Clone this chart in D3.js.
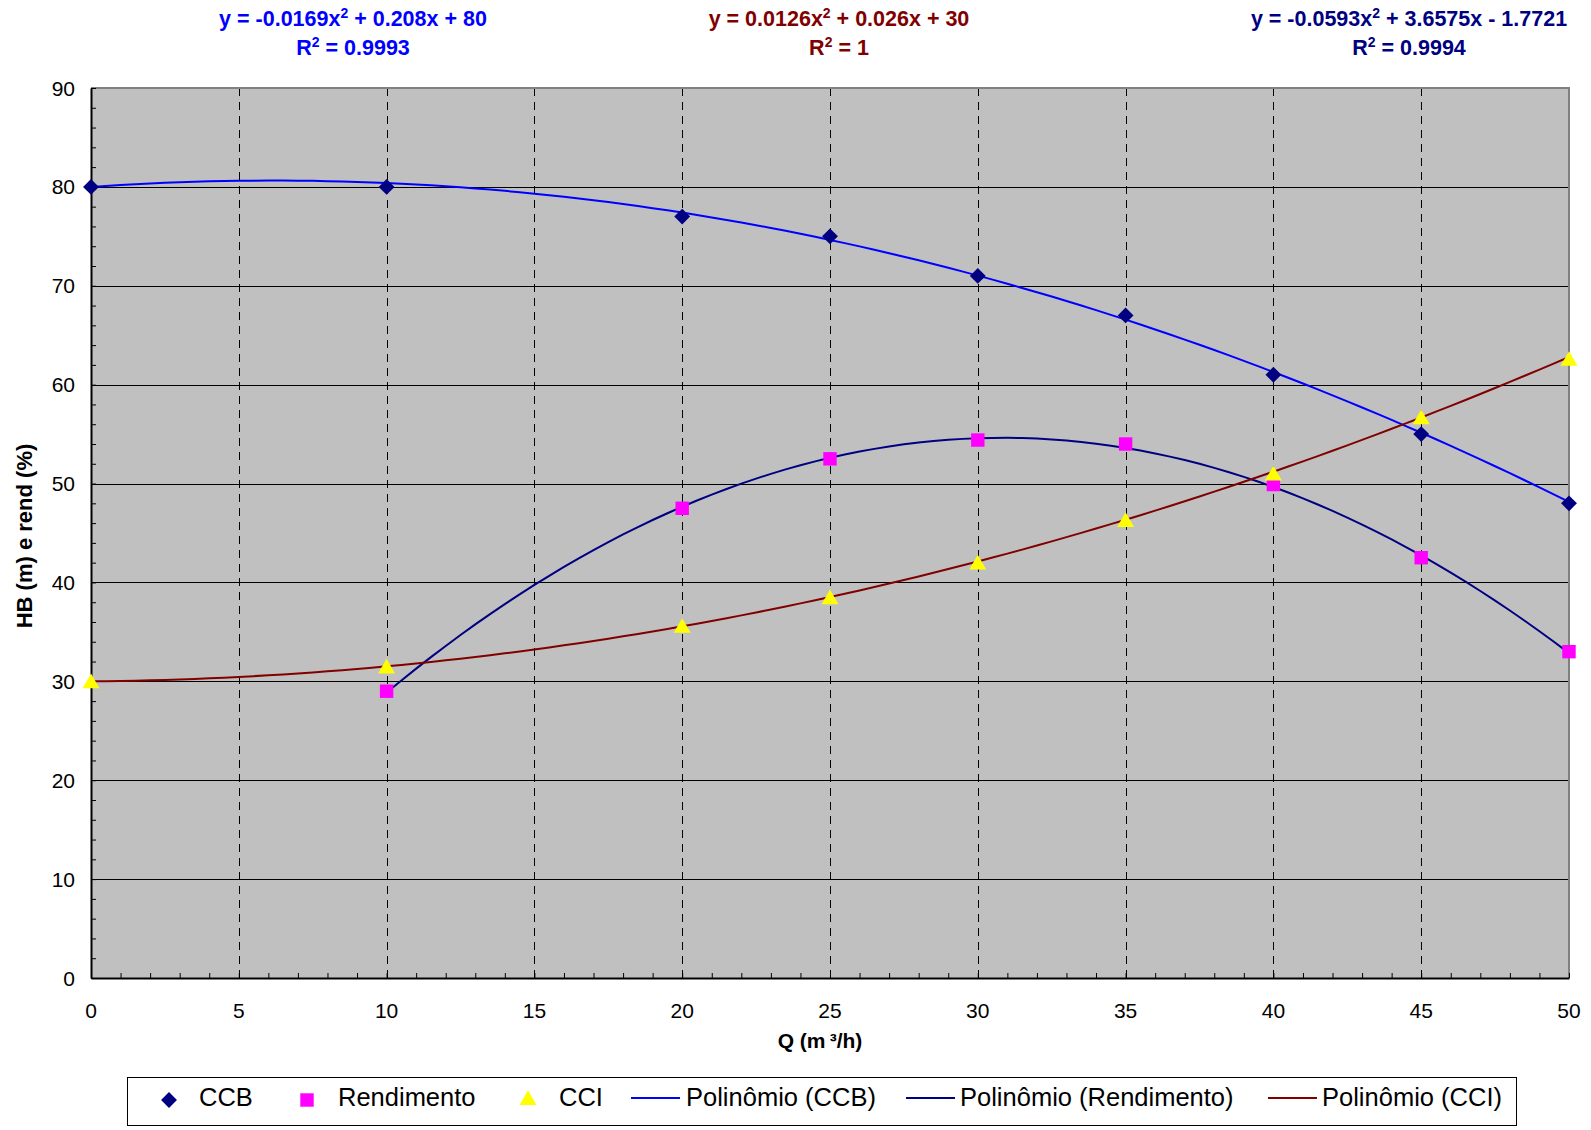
<!DOCTYPE html>
<html>
<head>
<meta charset="utf-8">
<script src="https://cdn.jsdelivr.net/npm/d3@7"></script>
<style>
  body { margin: 0; background: #fff; }
  text { font-family: Arial, "Liberation Sans", sans-serif; }
</style>
</head>
<body>
<svg id="chart" width="1591" height="1130"></svg>
<script>
// data
var qValues = [0, 10, 20, 25, 30, 35, 40, 45, 50];
var ccbValues = [80, 80, 77, 75, 71, 67, 61, 55, 48];
var rendQ = [10, 20, 25, 30, 35, 40, 45, 50];
var rendValues = [29, 47.5, 52.5, 54.4, 54, 49.9, 42.5, 33];
var cciValues = [30, 31.5, 35.6, 38.5, 42, 46.3, 51, 56.7, 62.6];

// trendline coefficients as printed on the chart (a, b, c)
var ccbCoef = [-0.0169, 0.208, 80];
var rendCoef = [-0.0593, 3.6575, -1.7721];
var cciCoef = [0.0126, 0.026, 30];

var xTicks = [0, 5, 10, 15, 20, 25, 30, 35, 40, 45, 50];
var yTicks = [0, 10, 20, 30, 40, 50, 60, 70, 80, 90];

var svg = d3.select("#chart");
var plotLeft = 91, plotRight = 1569, plotTop = 88, plotBottom = 978;

var x = d3.scaleLinear().domain([0, 50]).range([plotLeft, plotRight]);
var y = d3.scaleLinear().domain([0, 90]).range([plotBottom, plotTop]);

// plot background
svg.append("rect")
  .attr("x", plotLeft).attr("y", plotTop)
  .attr("width", plotRight - plotLeft).attr("height", plotBottom - plotTop)
  .attr("fill", "#c0c0c0");

// horizontal gridlines
svg.selectAll(".hgrid")
  .data(yTicks.filter(d => d > 0 && d < 90))
  .enter().append("line")
  .attr("x1", plotLeft).attr("x2", plotRight)
  .attr("y1", d => Math.round(y(d)) + 0.5).attr("y2", d => Math.round(y(d)) + 0.5)
  .attr("stroke", "#000").attr("stroke-width", 1);

// vertical dashed gridlines
svg.selectAll(".vgrid")
  .data(xTicks.filter(d => d > 0 && d < 50))
  .enter().append("line")
  .attr("x1", d => Math.round(x(d)) + 0.5).attr("x2", d => Math.round(x(d)) + 0.5)
  .attr("y1", plotTop).attr("y2", plotBottom)
  .attr("stroke", "#000").attr("stroke-width", 1)
  .attr("stroke-dasharray", "8,6");

// top and right border
svg.append("path")
  .attr("d", `M${plotLeft},${plotTop}H${plotRight}V${plotBottom}`)
  .attr("fill", "none").attr("stroke", "#808080").attr("stroke-width", 2);

// axes, ticks pointing into the plot
var yAxis = d3.axisRight(y).tickValues(d3.range(0, 91, 2)).tickSize(5).tickSizeOuter(0).tickFormat("");
svg.append("g").attr("transform", `translate(${plotLeft},0)`).call(yAxis)
  .call(g => g.select(".domain").attr("stroke-width", 2));
var xAxis = d3.axisTop(x).tickValues(d3.range(0, 51, 1)).tickSize(5).tickSizeOuter(0).tickFormat("");
svg.append("g").attr("transform", `translate(0,${plotBottom})`).call(xAxis)
  .call(g => g.select(".domain").attr("stroke-width", 2));

// tick labels
svg.selectAll(".ylab")
  .data(yTicks)
  .enter().append("text")
  .attr("x", 75).attr("y", d => y(d) + 7.5)
  .attr("text-anchor", "end")
  .attr("font-size", 21)
  .text(d => d);

svg.selectAll(".xlab")
  .data(xTicks)
  .enter().append("text")
  .attr("x", d => x(d)).attr("y", 1018)
  .attr("text-anchor", "middle")
  .attr("font-size", 21)
  .text(d => d);

// axis titles
svg.append("text")
  .attr("x", 820).attr("y", 1048)
  .attr("text-anchor", "middle")
  .attr("font-size", 21).attr("font-weight", "bold")
  .text("Q (m\u2009³/h)");

svg.append("text")
  .attr("transform", "translate(32,536) rotate(-90)")
  .attr("text-anchor", "middle")
  .attr("font-size", 22).attr("font-weight", "bold")
  .text("HB (m) e rend (%)");

// trendlines
function poly(c) { return q => c[0] * q * q + c[1] * q + c[2]; }
var line = d3.line().x(d => x(d[0])).y(d => y(d[1]));
function trend(c, q0, q1, color) {
  var f = poly(c);
  var pts = d3.range(q0, q1 + 0.001, 0.5).map(q => [q, f(q)]);
  svg.append("path").datum(pts)
    .attr("d", line)
    .attr("fill", "none").attr("stroke", color).attr("stroke-width", 2);
}
trend(ccbCoef, 0, 50, "#0000ff");
trend(rendCoef, 10, 50, "#000080");
trend(cciCoef, 0, 50, "#800000");

// markers
var diamond = d3.symbol().type(d3.symbolDiamond2).size(160);
var square = d3.symbol().type(d3.symbolSquare).size(180);
var triangle = d3.symbol().type(d3.symbolTriangle).size(125);

svg.selectAll(".ccb")
  .data(qValues.map((q, i) => [q, ccbValues[i]]))
  .enter().append("path")
  .attr("d", diamond)
  .attr("transform", d => `translate(${x(d[0])},${y(d[1])})`)
  .attr("fill", "#000080");

svg.selectAll(".rend")
  .data(rendQ.map((q, i) => [q, rendValues[i]]))
  .enter().append("path")
  .attr("d", square)
  .attr("transform", d => `translate(${x(d[0])},${y(d[1])})`)
  .attr("fill", "#ff00ff");

svg.selectAll(".cci")
  .data(qValues.map((q, i) => [q, cciValues[i]]))
  .enter().append("path")
  .attr("d", triangle)
  .attr("transform", d => `translate(${x(d[0])},${y(d[1]) + 2})`)
  .attr("fill", "#ffff00");

// equation labels
var eqs = [
  { c: ccbCoef, r2: "0.9993", cx: 353, color: "#0000ff" },
  { c: cciCoef, r2: "1", cx: 839, color: "#800000" },
  { c: rendCoef, r2: "0.9994", cx: 1409, color: "#000080" }
];
eqs.forEach(function(e) {
  var t1 = svg.append("text")
    .attr("x", e.cx).attr("y", 26)
    .attr("text-anchor", "middle")
    .attr("font-size", 21.5).attr("font-weight", "bold")
    .attr("fill", e.color);
  t1.append("tspan").text("y = " + e.c[0] + "x");
  t1.append("tspan").attr("dy", -8).attr("font-size", 14).text("2");
  var rest = " + " + e.c[1] + "x " + (e.c[2] < 0 ? "- " : "+ ") + Math.abs(e.c[2]);
  t1.append("tspan").attr("dy", 8).text(rest);

  var t2 = svg.append("text")
    .attr("x", e.cx).attr("y", 55)
    .attr("text-anchor", "middle")
    .attr("font-size", 21.5).attr("font-weight", "bold")
    .attr("fill", e.color);
  t2.append("tspan").text("R");
  t2.append("tspan").attr("dy", -8).attr("font-size", 14).text("2");
  t2.append("tspan").attr("dy", 8).text(" = " + e.r2);
});

// legend
svg.append("rect")
  .attr("x", 127.5).attr("y", 1077.5)
  .attr("width", 1389).attr("height", 48)
  .attr("fill", "#fff").attr("stroke", "#000").attr("stroke-width", 1);

var legendItems = [
  { label: "CCB", kind: "marker", sym: diamond, color: "#000080", mx: 169, tx: 199 },
  { label: "Rendimento", kind: "marker", sym: square, color: "#ff00ff", mx: 307, tx: 338 },
  { label: "CCI", kind: "marker", sym: triangle, color: "#ffff00", mx: 528, tx: 559 },
  { label: "Polinômio (CCB)", kind: "line", color: "#0000ff", mx: 631, tx: 686 },
  { label: "Polinômio (Rendimento)", kind: "line", color: "#000080", mx: 906, tx: 960 },
  { label: "Polinômio (CCI)", kind: "line", color: "#800000", mx: 1268, tx: 1322 }
];
var ly = 1099;
legendItems.forEach(function(it) {
  if (it.kind === "marker") {
    svg.append("path").attr("d", it.sym)
      .attr("transform", `translate(${it.mx},${ly + 1})`)
      .attr("fill", it.color);
  } else {
    svg.append("line")
      .attr("x1", it.mx).attr("x2", it.mx + 49)
      .attr("y1", ly - 1).attr("y2", ly - 1)
      .attr("stroke", it.color).attr("stroke-width", 2);
  }
  svg.append("text")
    .attr("x", it.tx).attr("y", 1106)
    .attr("font-size", 25.5)
    .text(it.label);
});
</script>
</body>
</html>
